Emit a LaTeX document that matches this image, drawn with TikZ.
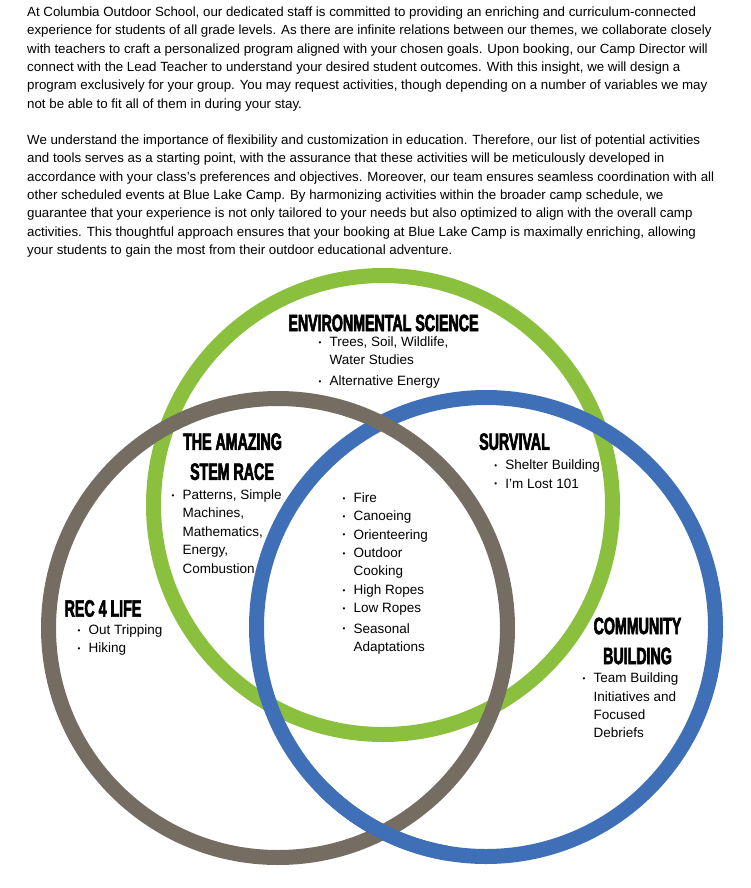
\documentclass[tikz,border=0pt]{standalone}
\usepackage{fontspec}
\usepackage{graphicx}
\setmainfont{Liberation Sans}
\newfontfamily\headfont{Liberation Sans}[FakeStretch=0.6,BoldFeatures={FakeBold=2.5}]
\usetikzlibrary{positioning}

\definecolor{ringgreen}{RGB}{139,192,63}
\definecolor{ringbrown}{RGB}{117,108,98}
\definecolor{ringblue}{RGB}{62,111,183}

% lists and paragraphs are placed at the baseline of their last line
\tikzset{
  ring/.style={line width=15pt},
  para/.style={anchor=base west, inner sep=0pt, align=left,
    font=\fontsize{13.3}{18.4}\selectfont},
  head/.style={inner sep=0pt, font=\headfont\bfseries\fontsize{23.7}{30}\selectfont},
  items/.style={anchor=base west, inner sep=0pt, align=left,
    font=\fontsize{13.5}{18.4}\selectfont},
}
\newcommand{\itm}{\makebox[11pt][l]{\scalebox{0.6}{\raisebox{2pt}{•}}}}
\newcommand{\cont}{\hspace*{11pt}}

\begin{document}
\begin{tikzpicture}[x=1pt, y=-1pt]
    \useasboundingbox (0,0) rectangle (750,888);

    % text above the diagram
    \node[para] (intro) at (27,108.3) {At Columbia Outdoor School, our dedicated staff is committed to providing an enriching and curriculum-connected\\
experience for students of all grade levels. As there are infinite relations between our themes, we collaborate closely\\
with teachers to craft a personalized program aligned with your chosen goals. Upon booking, our Camp Director will\\
connect with the Lead Teacher to understand your desired student outcomes. With this insight, we will design a\\
program exclusively for your group. You may request activities, though depending on a number of variables we may\\
not be able to fit all of them in during your stay.};
    \node[para] (flex) at (27,254.6) {We understand the importance of flexibility and customization in education. Therefore, our list of potential activities\\
and tools serves as a starting point, with the assurance that these activities will be meticulously developed in\\
accordance with your class's preferences and objectives. Moreover, our team ensures seamless coordination with all\\
other scheduled events at Blue Lake Camp. By harmonizing activities within the broader camp schedule, we\\
guarantee that your experience is not only tailored to your needs but also optimized to align with the overall camp\\
activities. This thoughtful approach ensures that your booking at Blue Lake Camp is maximally enriching, allowing\\
your students to gain the most from their outdoor educational adventure.};

    % the three rings
    \coordinate (greenc) at (383,505);
    \coordinate (brownc) at (278,628);
    \coordinate (bluec) at (486,627);
    \draw[ring, ringgreen] (greenc) circle (229.5);
    \draw[ring, ringblue] (bluec) circle (229.5);
    \draw[ring, ringbrown] (brownc) circle (229.5);
    \draw[ring, ringblue] (bluec) ++(100:229.5) arc[start angle=100, end angle=135, radius=229.5];

    % headings
    \node[head] (envhead) at (383.5,323) {ENVIRONMENTAL SCIENCE};
    \node[head] (stemhead) at (232.5,441.7) {THE AMAZING};
    \node[head] (stemhead2) at (232,471.7) {STEM RACE};
    \node[head] (survhead) at (514.5,441.7) {SURVIVAL};
    \node[head] (rechead) at (103,608.5) {REC 4 LIFE};
    \node[head] (commhead) at (637.5,626) {COMMUNITY};
    \node[head] (commhead2) at (637.5,656) {BUILDING};

    % activity lists
    \node[items] (envlist) at (318.5,385.5) {\itm Trees, Soil, Wildlife,\\ \cont Water Studies\\[2.3pt] \itm Alternative Energy};
    \node[items] (stemlist) at (171.5,573.1) {\itm Patterns, Simple\\ \cont Machines,\\ \cont Mathematics,\\ \cont Energy,\\ \cont Combustion};
    \node[items] (corelist) at (342.5,651.5) {\itm Fire\\ \itm Canoeing\\ \itm Orienteering\\ \itm Outdoor\\ \cont Cooking\\ \itm High Ropes\\ \itm Low Ropes\\[2pt] \itm Seasonal\\ \cont Adaptations};
    \node[items] (survlist) at (494.2,488.1) {\itm Shelter Building\\ \itm I'm Lost 101};
    \node[items] (reclist) at (77.5,652.8) {\itm Out Tripping\\ \itm Hiking};
    \node[items] (commlist) at (582.5,737.8) {\itm Team Building\\ \cont Initiatives and\\ \cont Focused\\ \cont Debriefs};
\end{tikzpicture}
\end{document}
